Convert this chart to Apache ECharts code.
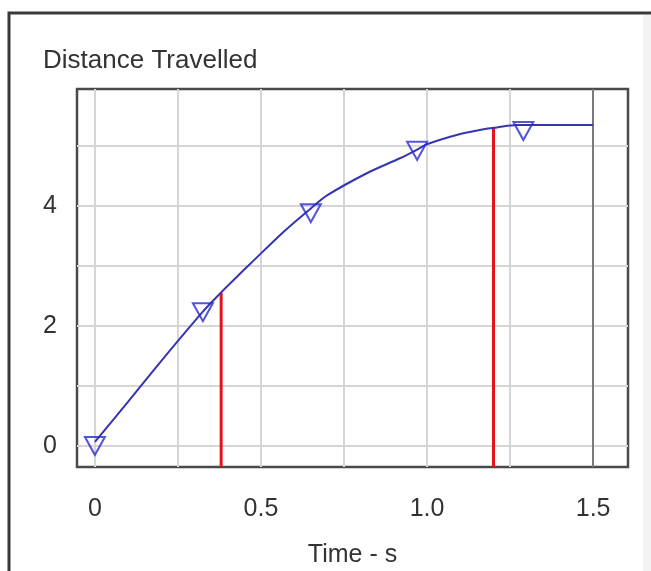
<!DOCTYPE html>
<html lang="en">
<head>
    <meta charset="UTF-8">
    <script src="https://cdn.jsdelivr.net/npm/echarts@6/dist/echarts.min.js"></script>
    <style>
        html, body { margin: 0; padding: 0; background: #fff; }
        #main { width: 651px; height: 571px; }
    </style>
</head>
<body>
    <div id="main"></div>

    <script>
        // distance curve
        var curveTime = [0, 0.1, 0.2, 0.325, 0.38, 0.42, 0.47, 0.57, 0.65, 0.70, 0.82, 0.92, 0.97, 1.0, 1.1, 1.17, 1.21, 1.27, 1.5];
        var curveDist = [0.07, 0.74, 1.42, 2.24, 2.56, 2.78, 3.05, 3.58, 3.96, 4.18, 4.55, 4.8, 4.94, 5.03, 5.2, 5.28, 5.31, 5.35, 5.35];

        // triangle markers
        var markerTime = [0, 0.325, 0.65, 0.97, 1.29];
        var markerDist = [0, 2.23, 3.88, 4.92, 5.25];

        // red cursor lines
        var cursorTime = [0.38, 1.2];
        var cursorDist = [2.56, 5.3];

        var xTicks = [0, 0.25, 0.5, 0.75, 1.0, 1.25, 1.5];
        var xLabels = [0, 0.5, 1.0, 1.5];
        var yTicks = [0, 1, 2, 3, 4, 5];
        var yLabels = [0, 2, 4];

        var xMin = -0.054, xMax = 1.605;
        var yMin = -0.35, yMax = 5.95;

        var font = 'Liberation Sans, Arial, sans-serif';

        var curve = curveTime.map(function (t, i) { return [t, curveDist[i]]; });
        var markers = markerTime.map(function (t, i) { return [t, markerDist[i]]; });

        var series = [{
            type: 'line',
            data: curve,
            smooth: 0.3,
            showSymbol: false,
            lineStyle: { color: '#3535b0', width: 2 },
            z: 3
        }, {
            type: 'scatter',
            data: markers,
            symbol: 'triangle',
            symbolRotate: 180,
            symbolSize: [20, 18],
            itemStyle: { color: 'rgba(255,255,255,0)', borderColor: '#2a2ad0', borderWidth: 2 },
            z: 4
        }];

        cursorTime.forEach(function (t, i) {
            series.push({
                type: 'line',
                data: [[t, yMin], [t, cursorDist[i]]],
                showSymbol: false,
                lineStyle: { color: '#e5121a', width: 3 },
                z: 2
            });
        });

        var chart = echarts.init(document.getElementById('main'));
        chart.setOption({
            animation: false,
            title: {
                text: 'Distance Travelled',
                left: 38,
                top: 43,
                textStyle: { fontFamily: font, fontSize: 26, fontWeight: 'normal', color: '#333' }
            },
            graphic: [{
                type: 'rect',
                shape: { x: 643, y: 15, width: 20, height: 600 },
                style: { fill: '#f3f3f3' },
                z: -2
            }, {
                type: 'rect',
                shape: { x: 9, y: 13, width: 700, height: 620 },
                style: { fill: 'rgba(0,0,0,0)', stroke: '#3a3a3a', lineWidth: 3 },
                z: -1
            }],
            grid: {
                left: 77,
                right: 23,
                top: 89,
                bottom: 104,
                outerBoundsMode: 'none',
                containLabel: false,
                show: true,
                borderColor: '#4a4a4a',
                borderWidth: 2.5,
                backgroundColor: '#fff'
            },
            xAxis: {
                type: 'value',
                min: xMin,
                max: xMax,
                name: 'Time - s',
                nameLocation: 'middle',
                nameGap: 76,
                nameTextStyle: { fontFamily: font, fontSize: 25, color: '#333' },
                axisLine: { show: false },
                axisTick: { show: false, customValues: xTicks },
                axisLabel: {
                    customValues: xLabels,
                    margin: 30,
                    fontFamily: font,
                    fontSize: 25,
                    color: '#333',
                    formatter: function (v) { return v === 0 ? '0' : v.toFixed(1); }
                },
                splitLine: {
                    show: true,
                    lineStyle: { color: ['#d6d6d6', '#d6d6d6', '#d6d6d6', '#d6d6d6', '#d6d6d6', '#d6d6d6', '#7a7a7a'], width: 2 }
                }
            },
            yAxis: {
                type: 'value',
                min: yMin,
                max: yMax,
                axisLine: { show: false },
                axisTick: { show: false, customValues: yTicks },
                axisLabel: {
                    customValues: yLabels,
                    margin: 20,
                    fontFamily: font,
                    fontSize: 25,
                    color: '#333'
                },
                splitLine: { show: true, lineStyle: { color: '#d6d6d6', width: 2 } }
            },
            series: series
        });
    </script>
</body>
</html>
